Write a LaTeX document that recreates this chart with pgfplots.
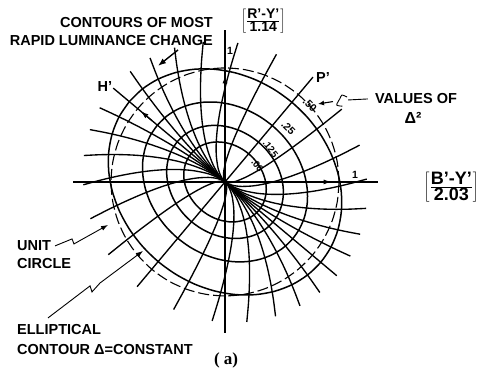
\documentclass[border=0pt]{standalone}
\usepackage{pgfplots}
\pgfplotsset{compat=1.18}
\usepackage{pgfplotstable}
\usepackage{fontspec}
\setmainfont{Liberation Sans}
\newfontfamily\serifface{Liberation Serif}
\usetikzlibrary{arrows.meta}

% unit circle sampled every 10 degrees (cos, sin)
\pgfplotstableread{
c s
1 0
0.9848 0.1736
0.9397 0.3420
0.8660 0.5
0.7660 0.6428
0.6428 0.7660
0.5 0.8660
0.3420 0.9397
0.1736 0.9848
0 1
-0.1736 0.9848
-0.3420 0.9397
-0.5 0.8660
-0.6428 0.7660
-0.7660 0.6428
-0.8660 0.5
-0.9397 0.3420
-0.9848 0.1736
-1 0
-0.9848 -0.1736
-0.9397 -0.3420
-0.8660 -0.5
-0.7660 -0.6428
-0.6428 -0.7660
-0.5 -0.8660
-0.3420 -0.9397
-0.1736 -0.9848
0 -1
0.1736 -0.9848
0.3420 -0.9397
0.5 -0.8660
0.6428 -0.7660
0.7660 -0.6428
0.8660 -0.5
0.9397 -0.3420
0.9848 -0.1736
1 0
}\unitcircle

% normalised path of a line of steepest change: (t, t^p), p = 1.7
\pgfplotstableread{
t tp
0 0
0.025 0.00189
0.05 0.00615
0.1 0.01995
0.15 0.03974
0.2 0.06482
0.3 0.12914
0.4 0.21063
0.5 0.30779
0.6 0.41963
0.7 0.54534
0.8 0.68435
0.9 0.83601
1 1
}\trajectory

\newcommand\lab{\fontsize{14.5}{17}\selectfont\bfseries}
\newcommand\smalllab{\fontsize{10.5}{12}\selectfont\bfseries}

\begin{document}
\begin{tikzpicture}
\begin{axis}[
  x=114pt, y=114pt,
  xmin=-1.974, xmax=2.228, ymin=-1.675, ymax=1.596,
  scale only axis, hide axis, clip=false,
  grad/.style={black, line width=1.35pt, smooth},
  ell/.style={black, line width=1.5pt, smooth},
  lead/.style={black, line width=0.9pt, sharp plot},
]
\path (rel axis cs:0,0) rectangle (rel axis cs:1,1);

% principal frame: major axis at 140 deg, minor axis at 50 deg
% lines of most rapid change; their outer ends lie on an ellipse 1.28 x 1.20
% at these parametric angles (closer together near the major axis)
\pgfplotsinvokeforeach{0,10,20,31,43,57,73,90,107,123,137,149,160,170,180,190,200,211,223,237,253,270,287,303,317,329,340,350}{
  \addplot[grad] table[
    x expr={-0.7660*1.28*cos(#1)*\thisrow{t}+0.6428*1.20*sin(#1)*\thisrow{tp}},
    y expr={0.6428*1.28*cos(#1)*\thisrow{t}+0.7660*1.20*sin(#1)*\thisrow{tp}}
  ] {\trajectory};
}

% elliptical contours for Delta^2 = .50, .25, .125, .0625 (semi-axes 1.55 x 1.29 for Delta^2 = 1)
\pgfplotsinvokeforeach{0.50,0.25,0.125,0.0625}{
  \addplot[ell] table[
    x expr={sqrt(#1)*(-0.7660*1.55*\thisrow{c}+0.6428*1.29*\thisrow{s})},
    y expr={sqrt(#1)*(0.6428*1.55*\thisrow{c}+0.7660*1.29*\thisrow{s})}
  ] {\unitcircle};
}

% unit circle
\addplot[black, line width=1.1pt, smooth, dash pattern=on 11pt off 4pt] table[x=c, y=s] {\unitcircle};

% reference axes
\addplot[black, line width=1.3pt] coordinates {(-1.333,0) (1.342,0)};
\addplot[black, line width=1.3pt] coordinates {(0,-1.325) (0,1.333)};

% arrowheads on the axes
\addplot[black, line width=1.3pt, -{Latex[length=8pt,width=5pt]}] coordinates {(0,0.80) (0,0.935)};
\addplot[black, line width=1.3pt, -{Latex[length=8pt,width=5pt]}] coordinates {(0.80,0) (0.935,0)};
\addplot[black, line width=1.2pt, -{Latex[length=8pt,width=5pt]}] coordinates {(-0.64,0.537) (-0.74,0.621)};

% leaders
\addplot[black, line width=1.4pt, -{Latex[length=8pt,width=6pt]}] coordinates {(-0.412,1.158) (-0.588,1.018)};
\addplot[lead] coordinates {(1.254,0.728) (1.079,0.719)};
\addplot[black, line width=0.9pt, smooth] coordinates {(1.070,0.745) (1.026,0.762) (1.009,0.733) (0.980,0.675) (1.030,0.665)};
\addplot[black, line width=1.1pt, -{Latex[length=6pt,width=5pt]}] coordinates {(0.947,0.705) (0.816,0.684)};
\addplot[lead, -{Latex[length=7pt,width=5pt]}] coordinates {(-1.491,-0.561) (-1.342,-0.500) (-1.325,-0.544) (-1.263,-0.509) (-1.026,-0.377)};
\addplot[lead, -{Latex[length=7pt,width=5pt]}] coordinates {(-1.553,-1.193) (-1.184,-0.912) (-1.167,-0.965) (-1.096,-0.886) (-0.719,-0.605)};

% text
\node[font=\lab, anchor=east, inner sep=0] at (axis cs:-0.105,1.395) {CONTOURS OF MOST};
\node[font=\lab, anchor=east, inner sep=0] at (axis cs:-0.105,1.237) {RAPID LUMINANCE CHANGE};
\node[font=\fontsize{14}{16}\selectfont\bfseries, inner sep=0] at (axis cs:0.336,1.412)
  {$\left[\frac{\mbox{R'-Y'}}{\mbox{1.14}}\right]$};
\node[font=\fontsize{18}{20}\selectfont\bfseries, anchor=east, inner sep=0] at (axis cs:2.228,-0.044)
  {$\left[\frac{\mbox{B'-Y'}}{\mbox{2.03}}\right]$};
\node[font=\lab] at (axis cs:-1.053,0.833) {H'};
\node[font=\lab] at (axis cs:0.86,0.912) {P'};
\node[font=\smalllab] at (axis cs:0.045,1.15) {1};
\node[font=\smalllab] at (axis cs:1.14,0.06) {1};
\node[font=\lab] at (axis cs:1.675,0.728) {VALUES OF};
\node[font=\fontsize{16}{18}\selectfont\bfseries] at (axis cs:1.649,0.560) {Δ²};
\node[font=\smalllab, rotate=-45, inner sep=0] at (axis cs:0.745,0.675) {.50};
\node[font=\smalllab, rotate=-45, inner sep=0] at (axis cs:0.555,0.470) {.25};
\node[font=\fontsize{9.5}{11}\selectfont\bfseries, rotate=-52, inner sep=0] at (axis cs:0.400,0.290) {.125};
\node[font=\fontsize{9.5}{11}\selectfont\bfseries, rotate=-52, inner sep=0] at (axis cs:0.285,0.145) {.06};
\node[font=\lab, anchor=west, inner sep=0] at (axis cs:-1.825,-0.561) {UNIT};
\node[font=\lab, anchor=west, inner sep=0] at (axis cs:-1.825,-0.719) {CIRCLE};
\node[font=\lab, anchor=west, inner sep=0] at (axis cs:-1.825,-1.298) {ELLIPTICAL};
\node[font=\lab, anchor=west, inner sep=0] at (axis cs:-1.825,-1.474) {CONTOUR Δ=CONSTANT};
\node[font=\fontsize{17}{19}\selectfont\serifface\bfseries] at (axis cs:0.009,-1.57) {( a)};
\end{axis}
\end{tikzpicture}
\end{document}
